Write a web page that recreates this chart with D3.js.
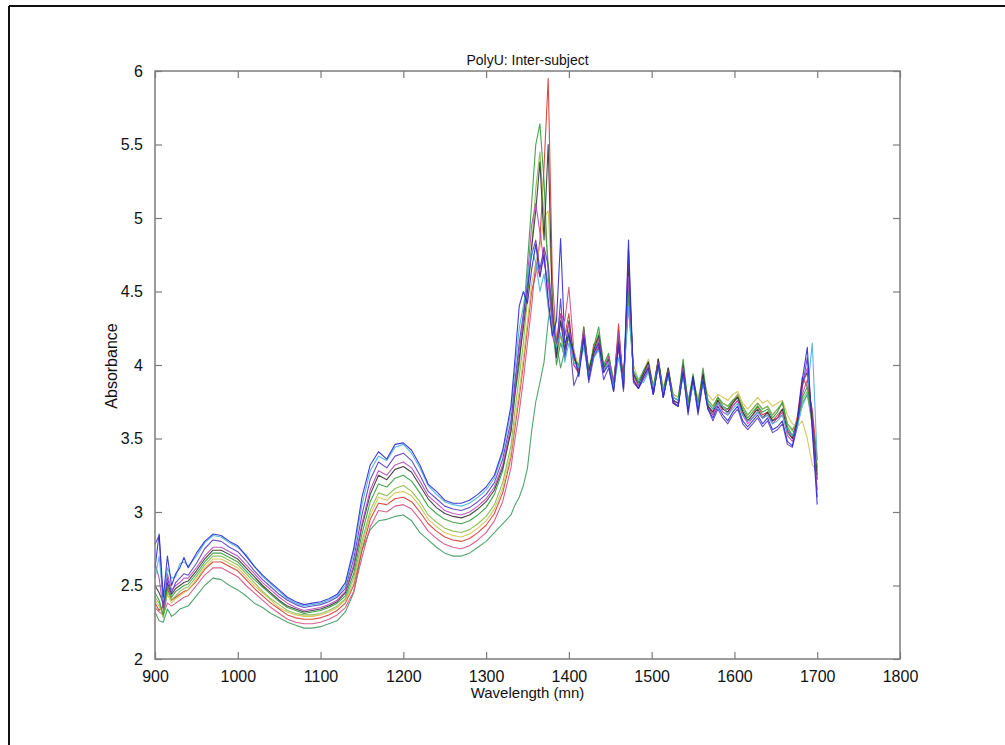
<!DOCTYPE html>
<html>
<head>
<meta charset="utf-8">
<script src="https://cdn.jsdelivr.net/npm/d3@7"></script>
<style>
  html, body { margin: 0; padding: 0; background: #fff; }
  svg { display: block; }
</style>
</head>
<body>
<svg id="chart" width="1005" height="745"></svg>
<script>
const chartTitle = "PolyU: Inter-subject";
const xLabel = "Wavelength (mn)";
const yLabel = "Absorbance";
const xTicks = [900, 1000, 1100, 1200, 1300, 1400, 1500, 1600, 1700, 1800];
const yTicks = [2, 2.5, 3, 3.5, 4, 4.5, 5, 5.5, 6];

const wavelengths = [
  900,905,910,915,920,925,930,935,940,950,960,970,980,990,1000,1010,1020,1030,1040,1050,
  1060,1070,1080,1090,1100,1110,1120,1130,1140,1150,1160,1170,1180,1190,1200,1210,1220,1230,1240,1250,
  1260,1270,1280,1290,1300,1310,1320,1330,
  1335,1340,1345,1350,1355,1360,1365,1370,1375,1380,1385,1390,1395,
  1400,1406,1412,1418,1424,1430,1436,1442,1448,1454,1460,1466,1472,1478,1484,1490,1496,1502,1508,1514,
  1520,1526,1532,1538,1544,1550,1556,1562,1568,1574,1580,1586,1592,1598,1604,1610,1616,1622,1628,1634,
  1640,1646,1652,1658,1664,1670,1676,1682,1688,1694,1700
];

const s1 = [2.62,2.85,2.42,2.70,2.50,2.58,2.62,2.69,2.62,2.72,2.80,2.85,2.84,2.80,2.77,2.70,2.63,2.57,2.52,2.47,
  2.42,2.39,2.37,2.38,2.39,2.41,2.44,2.52,2.75,3.10,3.32,3.41,3.36,3.46,3.47,3.42,3.32,3.19,3.14,3.08,
  3.06,3.06,3.08,3.12,3.17,3.25,3.42,3.72,
  4.05,4.40,4.50,4.42,4.65,4.82,4.60,4.75,4.45,4.20,4.30,4.86,4.15,
  4.20,4.08,3.92,4.18,3.90,4.08,4.15,3.95,4.00,3.82,4.15,3.84,4.85,3.90,3.84,3.92,3.98,3.80,4.00,3.78,
  3.95,3.74,3.72,3.95,3.68,3.92,3.68,3.90,3.70,3.64,3.72,3.66,3.62,3.68,3.72,3.62,3.58,3.62,3.66,3.60,
  3.64,3.56,3.58,3.62,3.48,3.45,3.62,3.90,4.12,3.55,3.05];
const s2 = [2.55,2.70,2.40,2.62,2.55,2.56,2.65,2.66,2.63,2.70,2.79,2.84,2.83,2.79,2.76,2.71,2.63,2.56,2.51,2.46,
  2.41,2.38,2.36,2.37,2.38,2.40,2.43,2.50,2.72,3.05,3.28,3.38,3.35,3.44,3.46,3.40,3.30,3.18,3.12,3.07,
  3.05,3.04,3.06,3.10,3.15,3.23,3.40,3.68,
  3.98,4.25,4.40,4.60,4.78,4.70,4.50,4.62,4.40,4.25,4.12,4.22,4.02,
  4.15,4.02,3.98,4.12,3.92,4.05,4.10,3.96,4.02,3.84,4.05,3.88,4.40,3.96,3.90,3.88,3.95,3.85,3.98,3.82,
  3.92,3.78,3.76,3.92,3.72,3.86,3.72,3.88,3.74,3.70,3.74,3.72,3.66,3.70,3.74,3.66,3.62,3.64,3.68,3.64,
  3.66,3.60,3.62,3.66,3.54,3.52,3.58,3.72,3.80,4.15,3.35];
const s3 = [2.78,2.84,2.35,2.55,2.45,2.52,2.55,2.58,2.57,2.65,2.75,2.81,2.80,2.76,2.73,2.67,2.60,2.54,2.49,2.44,
  2.40,2.37,2.35,2.36,2.37,2.39,2.42,2.48,2.68,2.98,3.22,3.34,3.30,3.38,3.40,3.35,3.25,3.14,3.09,3.04,
  3.02,3.01,3.03,3.07,3.12,3.20,3.36,3.62,
  3.90,4.15,4.35,4.55,4.75,4.85,4.65,4.80,4.68,4.35,4.10,4.45,4.05,
  4.22,3.86,3.95,4.20,3.88,4.05,4.12,3.90,3.98,3.82,4.12,3.82,4.78,3.88,3.84,3.90,3.96,3.80,4.00,3.78,
  3.94,3.75,3.72,3.96,3.66,3.90,3.66,3.88,3.70,3.62,3.70,3.64,3.60,3.66,3.70,3.60,3.56,3.60,3.64,3.58,
  3.62,3.54,3.56,3.60,3.46,3.44,3.58,3.85,4.05,3.60,3.10];
const s4 = [2.65,2.55,2.33,2.58,2.47,2.50,2.52,2.55,2.55,2.62,2.70,2.76,2.76,2.73,2.70,2.64,2.58,2.52,2.47,2.42,
  2.38,2.35,2.33,2.34,2.35,2.37,2.40,2.46,2.64,2.92,3.15,3.28,3.25,3.32,3.34,3.30,3.21,3.11,3.06,3.01,
  2.99,2.98,3.00,3.04,3.09,3.17,3.32,3.58,
  3.85,4.10,4.30,4.60,4.95,5.10,4.90,4.70,4.55,4.30,4.15,4.35,4.20,
  4.28,4.00,3.96,4.24,3.92,4.08,4.18,3.95,4.06,3.86,4.22,3.86,4.60,3.92,3.86,3.92,4.00,3.80,4.02,3.78,
  3.96,3.74,3.72,3.98,3.70,3.88,3.70,3.90,3.70,3.66,3.74,3.68,3.66,3.72,3.76,3.66,3.60,3.64,3.68,3.64,
  3.66,3.60,3.64,3.68,3.52,3.48,3.60,3.86,3.98,3.62,3.15];
const s5 = [2.50,2.45,2.38,2.52,2.44,2.48,2.50,2.52,2.53,2.60,2.68,2.74,2.74,2.71,2.68,2.62,2.56,2.50,2.45,2.40,
  2.36,2.34,2.32,2.33,2.34,2.36,2.39,2.45,2.62,2.90,3.12,3.25,3.22,3.29,3.31,3.27,3.18,3.09,3.03,2.99,
  2.97,2.96,2.98,3.02,3.07,3.15,3.30,3.55,
  3.82,4.05,4.25,4.50,4.80,5.05,5.38,4.85,5.50,4.40,4.05,4.30,4.10,
  4.30,4.06,3.96,4.22,3.95,4.10,4.20,3.98,4.04,3.86,4.20,3.88,4.65,3.94,3.86,3.94,4.02,3.82,4.04,3.80,
  3.98,3.76,3.74,4.00,3.70,3.92,3.70,3.94,3.72,3.68,3.76,3.70,3.68,3.74,3.78,3.68,3.62,3.66,3.70,3.64,
  3.68,3.62,3.64,3.70,3.55,3.50,3.62,3.88,3.95,3.65,3.22];
const s6 = [2.45,2.40,2.30,2.50,2.42,2.46,2.48,2.50,2.51,2.58,2.66,2.72,2.72,2.69,2.66,2.60,2.54,2.49,2.44,2.39,
  2.35,2.33,2.31,2.32,2.33,2.35,2.38,2.43,2.58,2.85,3.07,3.19,3.17,3.23,3.25,3.21,3.13,3.04,2.99,2.95,
  2.93,2.92,2.94,2.98,3.03,3.12,3.28,3.55,
  3.80,4.00,4.30,4.70,5.10,5.50,5.64,5.25,4.60,4.30,4.00,4.15,4.05,
  4.22,4.04,4.00,4.26,3.96,4.12,4.26,4.00,4.08,3.88,4.16,3.90,4.50,3.94,3.88,3.96,4.02,3.84,4.04,3.82,
  3.98,3.78,3.76,4.04,3.74,3.94,3.72,3.98,3.74,3.70,3.78,3.72,3.70,3.76,3.78,3.70,3.64,3.68,3.72,3.68,
  3.70,3.64,3.68,3.75,3.58,3.52,3.60,3.78,3.85,3.62,3.25];
const s7 = [2.42,2.38,2.28,2.46,2.40,2.43,2.46,2.48,2.49,2.56,2.64,2.70,2.70,2.67,2.64,2.58,2.52,2.46,2.41,2.37,
  2.33,2.31,2.30,2.30,2.31,2.33,2.36,2.41,2.55,2.80,3.01,3.13,3.11,3.16,3.18,3.14,3.07,2.98,2.93,2.89,
  2.87,2.86,2.88,2.92,2.97,3.05,3.20,3.45,
  3.70,3.92,4.15,4.45,4.80,5.20,5.45,5.00,4.70,4.25,4.05,4.20,4.10,
  4.18,4.06,3.98,4.20,3.95,4.12,4.22,3.98,4.06,3.88,4.14,3.90,4.45,3.96,3.88,3.94,4.00,3.84,4.02,3.82,
  3.96,3.78,3.76,3.98,3.74,3.90,3.74,3.92,3.76,3.72,3.78,3.74,3.72,3.76,3.80,3.72,3.66,3.70,3.74,3.70,
  3.72,3.66,3.70,3.74,3.60,3.55,3.62,3.76,3.82,3.58,3.30];
const s8 = [2.40,2.36,2.30,2.44,2.38,2.41,2.43,2.45,2.47,2.54,2.62,2.68,2.68,2.65,2.62,2.56,2.50,2.45,2.40,2.35,
  2.32,2.30,2.29,2.29,2.30,2.32,2.35,2.40,2.52,2.77,2.98,3.10,3.08,3.13,3.14,3.11,3.04,2.95,2.90,2.86,
  2.84,2.83,2.85,2.89,2.94,3.02,3.16,3.40,
  3.62,3.82,4.05,4.30,4.55,4.70,4.80,5.00,5.05,4.50,4.10,4.20,4.12,
  4.24,4.10,3.98,4.18,3.98,4.10,4.16,4.00,4.06,3.90,4.15,3.92,4.42,4.00,3.90,3.96,4.04,3.86,4.04,3.84,
  3.98,3.80,3.78,3.96,3.76,3.88,3.78,3.90,3.80,3.76,3.80,3.78,3.76,3.80,3.82,3.74,3.70,3.74,3.78,3.74,
  3.76,3.72,3.74,3.76,3.66,3.60,3.58,3.62,3.50,3.32,3.28];
const s9 = [2.38,2.33,2.36,2.48,2.40,2.42,2.44,2.46,2.47,2.53,2.61,2.66,2.66,2.63,2.60,2.54,2.48,2.43,2.38,2.34,
  2.30,2.28,2.27,2.27,2.28,2.30,2.33,2.38,2.50,2.74,2.95,3.06,3.05,3.09,3.10,3.07,3.00,2.92,2.87,2.83,
  2.81,2.80,2.82,2.86,2.91,2.99,3.13,3.37,
  3.58,3.78,4.00,4.25,4.50,4.62,4.85,5.35,5.95,4.60,4.15,4.30,4.20,
  4.35,4.00,3.94,4.26,3.92,4.14,4.18,3.96,4.02,3.84,4.28,3.84,4.70,3.90,3.84,3.92,3.98,3.80,4.04,3.78,
  3.96,3.74,3.72,3.98,3.70,3.90,3.70,3.94,3.72,3.66,3.76,3.70,3.70,3.74,3.80,3.68,3.62,3.66,3.72,3.66,
  3.68,3.62,3.66,3.70,3.54,3.50,3.65,3.92,3.85,3.70,3.35];
const s10 = [2.35,2.32,2.30,2.38,2.36,2.38,2.40,2.42,2.43,2.50,2.57,2.62,2.62,2.59,2.56,2.50,2.45,2.40,2.35,2.31,
  2.27,2.25,2.24,2.24,2.25,2.27,2.30,2.35,2.46,2.69,2.90,3.01,3.00,3.04,3.05,3.02,2.95,2.87,2.82,2.78,
  2.76,2.75,2.77,2.81,2.86,2.94,3.07,3.30,
  3.50,3.68,3.90,4.15,4.40,4.70,4.60,4.80,4.40,4.20,4.10,4.35,4.30,
  4.53,4.10,3.96,4.20,3.92,4.06,4.14,3.95,4.04,3.86,4.24,3.88,4.55,3.94,3.88,3.92,3.98,3.82,4.00,3.80,
  3.94,3.76,3.74,3.94,3.72,3.88,3.72,3.90,3.72,3.68,3.74,3.70,3.68,3.72,3.76,3.66,3.62,3.64,3.68,3.64,
  3.66,3.62,3.64,3.66,3.56,3.52,3.60,3.80,3.90,3.64,3.30];
const s11 = [2.32,2.26,2.25,2.34,2.29,2.31,2.34,2.35,2.36,2.43,2.50,2.55,2.54,2.50,2.47,2.43,2.38,2.35,2.31,2.28,
  2.25,2.23,2.21,2.21,2.22,2.24,2.26,2.32,2.45,2.74,2.88,2.94,2.95,2.97,2.98,2.94,2.86,2.81,2.76,2.72,
  2.70,2.70,2.72,2.76,2.80,2.86,2.92,2.98,
  3.05,3.10,3.18,3.30,3.55,3.75,3.88,4.02,4.30,4.48,4.15,3.98,4.10,
  4.20,4.04,3.98,4.16,3.96,4.08,4.18,3.98,4.04,3.88,4.12,3.90,4.40,3.96,3.90,3.94,4.00,3.86,4.02,3.84,
  3.96,3.80,3.78,3.96,3.76,3.90,3.76,3.92,3.76,3.72,3.78,3.74,3.72,3.76,3.78,3.72,3.66,3.70,3.74,3.70,
  3.72,3.66,3.70,3.74,3.60,3.56,3.62,3.74,3.80,3.60,3.28];

const seriesList = [s11, s10, s9, s8, s7, s6, s5, s4, s3, s2, s1];
const seriesColors = ["#3f9a5c", "#d2507e", "#d43a32", "#d4c050", "#86b84a", "#2f9a3a", "#333333", "#b848b8", "#5a3cc0", "#48b0d8", "#2a2ad2"];

const svg = d3.select("#chart");
const W = 1005, H = 745;
const L = 155, R = 900, T = 71, B = 659;

svg.append("rect").attr("width", W).attr("height", H).attr("fill", "#fff");
// outer frame (left & top edges)
svg.append("line").attr("x1", 9).attr("y1", 6).attr("x2", 9).attr("y2", H).attr("stroke", "#111").attr("stroke-width", 2);
svg.append("line").attr("x1", 9).attr("y1", 6).attr("x2", W).attr("y2", 6).attr("stroke", "#111").attr("stroke-width", 2);

const x = d3.scaleLinear().domain([900, 1800]).range([L, R]);
const y = d3.scaleLinear().domain([2, 6]).range([B, T]);

const axisColor = "#7c7c7c";
const font = "'Liberation Sans', Arial, Helvetica, sans-serif";

// lines
const line = d3.line().x(d => x(d[0])).y(d => y(d[1]));
const plot = svg.append("g");
seriesList.forEach((s, i) => {
  const pts = wavelengths.map((w, j) => [w, s[j]]).filter(p => p[1] !== undefined);
  plot.append("path").datum(pts)
    .attr("d", line)
    .attr("fill", "none")
    .attr("stroke", seriesColors[i])
    .attr("stroke-width", 1.1)
    .attr("stroke-linejoin", "round")
    .attr("opacity", 0.9);
});

// axes
function styleAxis(g, showLabels) {
  g.select(".domain").remove();
  g.selectAll(".tick line").attr("stroke", axisColor).attr("stroke-width", 1.2);
  if (!showLabels) g.selectAll(".tick text").remove();
  else g.selectAll(".tick text").attr("fill", "#111").style("font-family", font).style("font-size", "16px");
}
const fmt = d3.format("~g");
svg.append("g").attr("transform", `translate(0,${B})`)
  .call(d3.axisBottom(x).tickValues(xTicks).tickFormat(fmt).tickSizeInner(-7).tickSizeOuter(0).tickPadding(12))
  .call(g => styleAxis(g, true));
svg.append("g").attr("transform", `translate(0,${T})`)
  .call(d3.axisTop(x).tickValues(xTicks).tickSizeInner(-7).tickSizeOuter(0))
  .call(g => styleAxis(g, false));
svg.append("g").attr("transform", `translate(${L},0)`)
  .call(d3.axisLeft(y).tickValues(yTicks).tickFormat(fmt).tickSizeInner(-7).tickSizeOuter(0).tickPadding(12))
  .call(g => styleAxis(g, true));
svg.append("g").attr("transform", `translate(${R},0)`)
  .call(d3.axisRight(y).tickValues(yTicks).tickSizeInner(-7).tickSizeOuter(0))
  .call(g => styleAxis(g, false));

// box
svg.append("rect").attr("x", L).attr("y", T).attr("width", R - L).attr("height", B - T)
  .attr("fill", "none").attr("stroke", axisColor).attr("stroke-width", 1.5);

// titles
svg.append("text").attr("x", (L + R) / 2).attr("y", 65).attr("text-anchor", "middle")
  .style("font-family", font).style("font-size", "14px").attr("fill", "#111").text(chartTitle);
svg.append("text").attr("x", (L + R) / 2).attr("y", 698).attr("text-anchor", "middle")
  .style("font-family", font).style("font-size", "15px").attr("fill", "#111").text(xLabel);
svg.append("text").attr("transform", `translate(117,366) rotate(-90)`).attr("text-anchor", "middle")
  .style("font-family", font).style("font-size", "16px").attr("fill", "#111").text(yLabel);
</script>
</body>
</html>
